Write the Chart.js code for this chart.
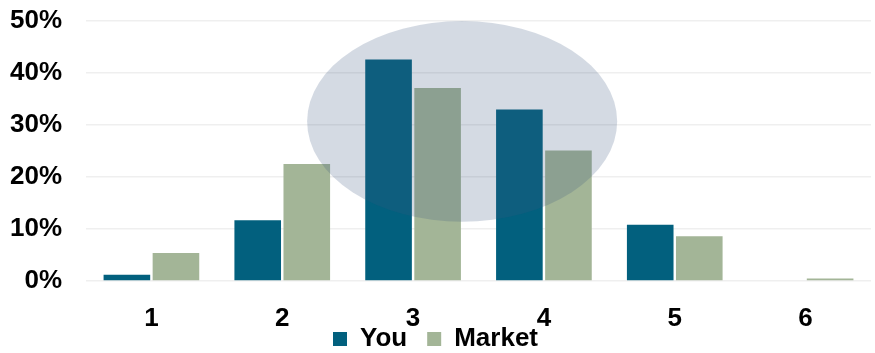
<!DOCTYPE html>
<html>
<head>
<meta charset="utf-8">
<script src="https://cdn.jsdelivr.net/npm/chart.js@4"></script>
<style>
  html, body { margin: 0; padding: 0; background: #fff; }
  #wrap { width: 875px; height: 353px; }
</style>
</head>
<body>
<div id="wrap"><canvas id="chart"></canvas></div>
<script>
const LABELS = ["1", "2", "3", "4", "5", "6"];
const YOU = [1.2, 11.7, 42.6, 33.0, 10.8, 0];
const MARKET = [5.4, 22.5, 37.1, 25.1, 8.6, 0.5];
const Y_TICKS = [0, 10, 20, 30, 40, 50];

// highlight oval round categories 3 and 4 (category index / value range)
const OVAL_X = [1.19, 3.56];
const OVAL_Y = [11.4, 50];

const ovalPlugin = {
  id: "oval",
  afterLayout(chart) {
    // pull the legend up so it sits tight under the axis labels
    chart.legend.top -= 20;
  },
  afterDatasetsDraw(chart) {
    const { ctx, scales: { x, y } } = chart;
    const x0 = x.getPixelForValue(OVAL_X[0]);
    const x1 = x.getPixelForValue(OVAL_X[1]);
    const yTop = y.getPixelForValue(OVAL_Y[1]);
    const yBot = y.getPixelForValue(OVAL_Y[0]);
    ctx.save();
    ctx.fillStyle = "rgba(61, 87, 128, 0.22)";
    ctx.beginPath();
    ctx.ellipse((x0 + x1) / 2, (yTop + yBot) / 2, (x1 - x0) / 2, (yBot - yTop) / 2, 0, 0, Math.PI * 2);
    ctx.fill();
    ctx.restore();
  }
};

const font = (size, lineHeight = 1.2) => ({ family: "Liberation Sans", size, weight: "bold", lineHeight });

new Chart(document.getElementById("chart"), {
  type: "bar",
  data: {
    labels: LABELS,
    datasets: [
      { label: "You", data: YOU, backgroundColor: "#02607e" },
      { label: "Market", data: MARKET, backgroundColor: "#a3b597" }
    ]
  },
  options: {
    responsive: true,
    maintainAspectRatio: false,
    animation: false,
    layout: { padding: { top: 0, right: 4, left: 0, bottom: 0 } },
    datasets: { bar: { categoryPercentage: 0.75, barPercentage: 0.95 } },
    plugins: {
      legend: {
        position: "bottom",
        maxHeight: 27,
        labels: { color: "#000", boxWidth: 14, boxHeight: 14, padding: 20, font: font(26) }
      },
      tooltip: { enabled: false }
    },
    scales: {
      x: {
        grid: { display: false },
        border: { display: false },
        afterFit: s => { s.height = 45; },
        ticks: { color: "#000", padding: 17, font: font(26, 1) }
      },
      y: {
        min: 0,
        max: 50,
        afterBuildTicks: s => { s.ticks = Y_TICKS.map(v => ({ value: v })); },
        afterFit: s => { s.width = 86; s.paddingTop = 21; s.paddingBottom = 0; },
        grid: { color: "#efefef", lineWidth: 1.5, drawTicks: false },
        border: { display: false },
        ticks: { color: "#000", padding: 24, callback: v => v + "%", font: font(26) }
      }
    }
  },
  plugins: [ovalPlugin]
});
</script>
</body>
</html>
